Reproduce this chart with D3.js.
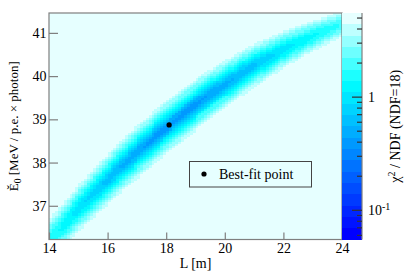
<!DOCTYPE html>
<html><head><meta charset="utf-8">
<script src="https://cdn.jsdelivr.net/npm/d3@7"></script>
<style>
html,body{margin:0;padding:0;background:#fff;}
#chart text{font-family:'Liberation Serif','Times New Roman','DejaVu Serif',serif !important;}
</style></head>
<body>
<svg id="chart" width="407" height="276"></svg>
<script>
// ---- data ----
const L_knots       = [14, 15, 16, 17, 18, 19, 20, 21, 22, 23, 24];
const bandCenterE   = [36.20, 36.93, 37.61, 38.24, 38.81, 39.34, 39.81, 40.24, 40.61, 40.93, 41.20];
const bandSigmaE    = [0.29, 0.29, 0.30, 0.31, 0.31, 0.30, 0.28, 0.26, 0.23, 0.20, 0.18];
const bandMinChi2   = [1.6, 0.95, 0.62, 0.45, 0.38, 0.4, 0.5, 0.65, 0.95, 1.3, 1.8];
const bestFitL      = [18.1];
const bestFitE      = [38.87];
const xTicks        = [14, 16, 18, 20, 22, 24];
const yTicks        = [37, 38, 39, 40, 41];
const cbMajorTicks  = [0.1, 1];
const cbMinorTicks  = [0.06, 0.07, 0.08, 0.09, 0.2, 0.3, 0.4, 0.5, 0.6, 0.7, 0.8, 0.9, 2, 3, 4, 5];
const legendLabels  = ["Best-fit point"];

// ---- layout ----
const FONT = "'Liberation Serif', 'Times New Roman', 'DejaVu Serif', serif";
const FS = 14;
const fx0 = 49, fx1 = 342, fy0 = 13, fy1 = 239.5;
const cbx0 = 342, cbx1 = 362;
const Ldom = [14, 24], Edom = [36.22, 41.46];
const chiDom = [0.0552, 5.54];
const nL = 100, nE = 104;
const nColors = 20;

const svg = d3.select("#chart");
const x = d3.scaleLinear().domain(Ldom).range([fx0, fx1]);
const y = d3.scaleLinear().domain(Edom).range([fy1, fy0]);

const cScale = d3.scaleLinear().domain(L_knots).range(bandCenterE);
const sScale = d3.scaleLinear().domain(L_knots).range(bandSigmaE);
const mScale = d3.scaleLinear().domain(L_knots).range(bandMinChi2);

const palInterp = d3.scaleLinear().domain([0, 0.7, 1]).range(["#0000ff", "#00ffff", "#e6ffff"]);
const palette = d3.range(nColors).map(i => palInterp(i / (nColors - 1)));
const logDom = chiDom.map(Math.log10);
const colorQ = d3.scaleQuantize().domain(logDom).range(palette);
const colorOf = v => colorQ(Math.max(logDom[0], Math.min(logDom[1] - 1e-9, Math.log10(v))));

// ---- heat map cells ----
const dL = (Ldom[1] - Ldom[0]) / nL, dE = (Edom[1] - Edom[0]) / nE;
const cells = [];
for (let i = 0; i < nL; i++) {
  for (let j = 0; j < nE; j++) {
    const L = Ldom[0] + (i + 0.5) * dL, E = Edom[0] + (j + 0.5) * dE;
    const d = (E - cScale(L)) / sScale(L);
    cells.push({L0: Ldom[0] + i * dL, E0: Edom[0] + j * dE, v: mScale(L) + d * d});
  }
}
svg.append("rect").attr("x", fx0).attr("y", fy0).attr("width", fx1 - fx0).attr("height", fy1 - fy0)
  .attr("fill", palette[nColors - 1]);
svg.append("g").attr("shape-rendering", "crispEdges")
  .selectAll("rect").data(cells.filter(c => colorOf(c.v) !== palette[nColors - 1])).join("rect")
  .attr("x", c => x(c.L0)).attr("y", c => y(c.E0 + dE))
  .attr("width", x(Ldom[0] + dL) - x(Ldom[0]) + 0.01)
  .attr("height", y(Edom[0]) - y(Edom[0] + dE) + 0.01)
  .attr("fill", c => colorOf(c.v));

// ---- frame & axes ----
const axisCol = "#7f7f7f";
svg.append("rect").attr("x", fx0).attr("y", fy0).attr("width", fx1 - fx0).attr("height", fy1 - fy0)
  .attr("fill", "none").attr("stroke", axisCol).attr("stroke-width", 1.2);

const gx = svg.append("g").attr("transform", `translate(0,${fy1})`)
  .call(d3.axisBottom(x).tickValues(xTicks).tickSize(-7).tickPadding(13.5).tickFormat(d3.format("d")));
gx.select(".domain").remove();
gx.attr("font-family", null);
gx.selectAll("line").attr("stroke", axisCol).attr("stroke-width", 1.2);
gx.selectAll("text").attr("font-size", FS).style("font-family", FONT).attr("fill", "#000").attr("dy", "0");

const gy = svg.append("g").attr("transform", `translate(${fx0},0)`)
  .call(d3.axisLeft(y).tickValues(yTicks).tickSize(-9).tickPadding(3).tickFormat(d3.format("d")));
gy.select(".domain").remove();
gy.attr("font-family", null);
gy.selectAll("line").attr("stroke", axisCol).attr("stroke-width", 1.2);
gy.selectAll("text").attr("font-size", FS).style("font-family", FONT).attr("fill", "#000").attr("dy", "0.33em").attr("x", -2.5);

// axis titles
svg.append("text").attr("x", (fx0 + fx1) / 2).attr("y", 268).attr("text-anchor", "middle")
  .style("font-family", FONT).attr("font-size", FS).text("L [m]");
const yl = svg.append("text").attr("transform", `translate(18,${(fy0 + fy1) / 2}) rotate(-90)`)
  .attr("text-anchor", "middle").style("font-family", FONT).attr("font-size", 13);
yl.append("tspan").text("Ě");
yl.append("tspan").attr("font-size", 9.5).attr("dy", 3).text("0");
yl.append("tspan").attr("dy", -3).text(" [MeV / p.e. × photon]");

// ---- best-fit marker ----
svg.selectAll("circle.bf").data(bestFitL.map((l, i) => ({L: l, E: bestFitE[i]}))).join("circle")
  .attr("class", "bf").attr("cx", d => x(d.L)).attr("cy", d => y(d.E)).attr("r", 2.6).attr("fill", "#000");

// ---- legend ----
const lg = svg.append("g");
lg.append("rect").attr("x", 189.5).attr("y", 161.5).attr("width", 122).attr("height", 25.5)
  .attr("fill", "none").attr("stroke", "#444").attr("stroke-width", 1);
lg.append("circle").attr("cx", 204).attr("cy", 174).attr("r", 2.6).attr("fill", "#000");
lg.selectAll("text").data(legendLabels).join("text").attr("x", 219).attr("y", 178.5)
  .style("font-family", FONT).attr("font-size", FS).text(d => d);

// ---- colour bar ----
const cy = d3.scaleLog().domain(chiDom).range([fy1, fy0]);
const bandEdges = d3.range(nColors + 1).map(i => Math.pow(10, logDom[0] + (logDom[1] - logDom[0]) * i / nColors));
svg.append("g").attr("shape-rendering", "crispEdges").selectAll("rect").data(d3.range(nColors)).join("rect")
  .attr("x", cbx0).attr("width", cbx1 - cbx0)
  .attr("y", i => cy(bandEdges[i + 1])).attr("height", i => cy(bandEdges[i]) - cy(bandEdges[i + 1]) + 0.01)
  .attr("fill", i => palette[i]);
svg.append("line").attr("x1", cbx1).attr("x2", cbx1).attr("y1", fy0).attr("y2", fy1)
  .attr("stroke", axisCol).attr("stroke-width", 1.2);
svg.selectAll("line.cbmin").data(cbMinorTicks).join("line").attr("class", "cbmin")
  .attr("x1", cbx1 - 5).attr("x2", cbx1).attr("y1", d => cy(d)).attr("y2", d => cy(d))
  .attr("stroke", "#333").attr("stroke-width", 1.2);
svg.selectAll("line.cbmaj").data(cbMajorTicks).join("line").attr("class", "cbmaj")
  .attr("x1", cbx1 - 10).attr("x2", cbx1).attr("y1", d => cy(d)).attr("y2", d => cy(d))
  .attr("stroke", "#333").attr("stroke-width", 1.2);
const cbl = svg.selectAll("text.cbl").data(cbMajorTicks).join("text").attr("class", "cbl")
  .attr("x", 368).attr("y", d => cy(d) + 5).style("font-family", FONT).attr("font-size", FS);
cbl.each(function(d) {
  const t = d3.select(this);
  if (d === 1) t.text("1");
  else { t.append("tspan").text("10"); t.append("tspan").attr("font-size", 10).attr("dy", -5).text("-1"); }
});
const ct = svg.append("text").attr("transform", `translate(400,${(fy0 + fy1) / 2}) rotate(-90)`)
  .attr("text-anchor", "middle").style("font-family", FONT).attr("font-size", FS);
ct.append("tspan").text("χ");
ct.append("tspan").attr("font-size", 10).attr("dy", -5).text("2");
ct.append("tspan").attr("dy", 5).text(" / NDF (NDF=18)");
</script>
</body></html>
